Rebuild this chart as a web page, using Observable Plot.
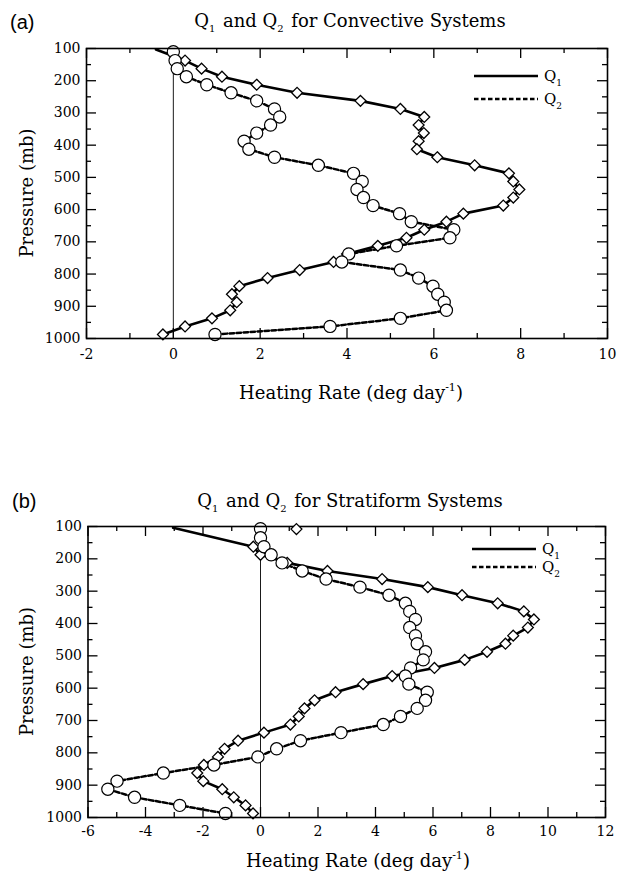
<!DOCTYPE html>
<html>
<head>
<meta charset="utf-8">
<script src="https://cdn.jsdelivr.net/npm/d3@7"></script>
<script src="https://cdn.jsdelivr.net/npm/@observablehq/plot@0.6"></script>
<style>
  body { margin: 0; background: #fff; }
  #root { width: 622px; height: 878px; }
  #root svg { display: block; }
</style>
</head>
<body>
<div id="root"></div>
<script>
// Pressure levels (mb) shared by both profiles, and axis tick labels
const pressureTicks = [100, 200, 300, 400, 500, 600, 700, 800, 900, 1000];
const convRateTicks = [-2, 0, 2, 4, 6, 8, 10];
const stratRateTicks = [-6, -4, -2, 0, 2, 4, 6, 8, 10, 12];

// (a) Convective systems — Q1 (apparent heat source), first vertex is the line start
const convQ1Pres = [103, 137.5, 162.5, 187.5, 212.5, 237.5, 262.5, 287.5, 312.5, 337.5, 362.5, 387.5, 412.5,
  437.5, 462.5, 487.5, 512.5, 537.5, 562.5, 587.5, 612.5, 637.5, 662.5, 687.5, 712.5, 737.5, 762.5,
  787.5, 812.5, 837.5, 862.5, 887.5, 912.5, 937.5, 962.5, 987.5];
const convQ1Rate = [-0.40, 0.27, 0.65, 1.12, 1.92, 2.85, 4.31, 5.23, 5.78, 5.65, 5.77, 5.65, 5.61,
  6.08, 6.94, 7.73, 7.83, 7.97, 7.83, 7.60, 6.68, 6.29, 5.78, 5.37, 4.71, 4.00, 3.69,
  2.91, 2.17, 1.52, 1.35, 1.46, 1.31, 0.89, 0.27, -0.24];

// (a) Convective systems — Q2 (apparent moisture sink)
const convQ2Pres = [110, 137.5, 162.5, 187.5, 212.5, 237.5, 262.5, 287.5, 312.5, 337.5, 362.5, 387.5, 412.5,
  437.5, 462.5, 487.5, 512.5, 537.5, 562.5, 587.5, 612.5, 637.5, 662.5, 687.5, 712.5, 737.5, 762.5,
  787.5, 812.5, 837.5, 862.5, 887.5, 912.5, 937.5, 962.5, 987.5];
const convQ2Rate = [0.00, 0.04, 0.09, 0.30, 0.77, 1.33, 1.92, 2.33, 2.45, 2.24, 1.92, 1.63, 1.74,
  2.33, 3.34, 4.15, 4.35, 4.23, 4.38, 4.60, 5.21, 5.48, 6.46, 6.37, 5.14, 4.04, 3.88,
  5.23, 5.65, 5.98, 6.09, 6.24, 6.29, 5.23, 3.61, 0.96];

// (b) Stratiform systems — Q1, first vertex is the line start
const stratQ1Pres = [104, 162.5, 187.5, 212.5, 237.5, 262.5, 287.5, 312.5, 337.5, 362.5, 387.5, 412.5,
  437.5, 462.5, 487.5, 512.5, 537.5, 562.5, 587.5, 612.5, 637.5, 662.5, 687.5, 712.5, 737.5, 762.5,
  787.5, 812.5, 837.5, 862.5, 887.5, 912.5, 937.5, 962.5, 987.5];
const stratQ1Rate = [-3.04, -0.25, 0.00, 0.93, 2.33, 4.23, 5.82, 7.01, 8.25, 9.16, 9.51, 9.30,
  8.79, 8.52, 7.88, 7.10, 6.05, 4.58, 3.57, 2.61, 1.88, 1.53, 1.33, 1.04, 0.12, -0.78,
  -1.25, -1.48, -1.97, -2.20, -1.99, -1.33, -0.93, -0.52, -0.26];
// lone Q1 value near the top of the stratiform profile
const stratQ1TopRate = [1.25];
const stratQ1TopPres = [108];

// (b) Stratiform systems — Q2
const stratQ2Pres = [107, 135, 162.5, 187.5, 212.5, 237.5, 262.5, 287.5, 312.5, 337.5, 362.5, 387.5, 412.5,
  437.5, 462.5, 487.5, 512.5, 537.5, 562.5, 587.5, 612.5, 637.5, 662.5, 687.5, 712.5, 737.5, 762.5,
  787.5, 812.5, 837.5, 862.5, 887.5, 912.5, 937.5, 962.5, 987.5];
const stratQ2Rate = [0.00, 0.00, 0.12, 0.37, 0.75, 1.45, 2.28, 3.46, 4.47, 5.04, 5.19, 5.39, 5.19,
  5.39, 5.45, 5.74, 5.66, 5.22, 5.04, 5.16, 5.80, 5.74, 5.45, 4.87, 4.27, 2.80, 1.39,
  0.56, -0.09, -1.62, -3.38, -4.99, -5.31, -4.38, -2.81, -1.22];

const SERIF = "'DejaVu Serif', 'Liberation Serif', serif";
const SANS = "'Liberation Sans', Arial, sans-serif";

const zip = (rates, pres) => rates.map((r, i) => ({rate: r, pres: pres[i]}));

// Append "Q" with a subscript index to a text element
function addQ(text, idx, big, small) {
  text.append("tspan").attr("font-size", big).text("Q");
  text.append("tspan").attr("font-size", small).attr("dy", big * 0.3).text(idx);
  text.append("tspan").attr("font-size", big).attr("dy", -big * 0.3).text("\u200a");
}

function drawPanel(cfg) {
  const {width, height, mt, mb, ml, mr} = cfg;
  const fw = width - ml - mr, fh = height - mt - mb;
  const majorLen = 10, minorLen = 5;
  const [x0, x1] = cfg.rateDomain;
  const xMajor = cfg.rateTicks;
  const xMinor = d3.range(x0, x1 + 1, 1).filter(v => !xMajor.includes(v));
  const yMinor = d3.range(150, 1000, 100);
  const q1 = zip(cfg.q1Rate, cfg.q1Pres);
  const q2 = zip(cfg.q2Rate, cfg.q2Pres);

  const marks = [
    Plot.axisX({ticks: xMajor, tickSize: 0, tickPadding: cfg.xPad, label: null, tickFormat: d => String(d)}),
    Plot.axisY({ticks: pressureTicks, tickSize: 0, tickPadding: 6, label: null, tickFormat: d => String(d)}),
    // inward ticks on all four sides
    Plot.tickX(xMajor, {x: d => d, insetTop: fh - majorLen, strokeWidth: 1.3}),
    Plot.tickX(xMinor, {x: d => d, insetTop: fh - minorLen, strokeWidth: 1.3}),
    Plot.tickX(xMajor, {x: d => d, insetBottom: fh - majorLen, strokeWidth: 1.3}),
    Plot.tickX(xMinor, {x: d => d, insetBottom: fh - minorLen, strokeWidth: 1.3}),
    Plot.tickY(pressureTicks, {y: d => d, insetRight: fw - majorLen, strokeWidth: 1.3}),
    Plot.tickY(yMinor, {y: d => d, insetRight: fw - minorLen, strokeWidth: 1.3}),
    Plot.tickY(pressureTicks, {y: d => d, insetLeft: fw - majorLen, strokeWidth: 1.3}),
    Plot.tickY(yMinor, {y: d => d, insetLeft: fw - minorLen, strokeWidth: 1.3}),
    Plot.ruleX([0], {strokeWidth: 0.9}),
    Plot.line(q2, {x: "rate", y: "pres", stroke: "black", strokeWidth: 2.5, strokeDasharray: "4.5,2.5"}),
    Plot.line(q1, {x: "rate", y: "pres", stroke: "black", strokeWidth: 2.6}),
    Plot.dot(q1.slice(1), {x: "rate", y: "pres", symbol: "diamond2", r: 4.9, fill: "white", stroke: "black", strokeWidth: 1.3}),
    Plot.dot(q2, {x: "rate", y: "pres", r: 6.1, fill: "white", stroke: "black", strokeWidth: 1.2}),
    Plot.frame({strokeWidth: 1.6})
  ];
  if (cfg.extraQ1) {
    marks.push(Plot.dot(cfg.extraQ1, {x: "rate", y: "pres", symbol: "diamond2", r: 4.9, fill: "white", stroke: "black", strokeWidth: 1.3}));
  }

  const svg = Plot.plot({
    width, height,
    marginTop: mt, marginBottom: mb, marginLeft: ml, marginRight: mr,
    style: {fontFamily: SERIF, fontSize: "14px", color: "black", background: "white", overflow: "visible"},
    x: {domain: cfg.rateDomain},
    y: {domain: [1000, 100]},
    marks
  });

  const s = d3.select(svg);
  // panel letter
  s.append("text").attr("x", cfg.letterX).attr("y", cfg.letterY).attr("text-anchor", "start")
    .attr("font-family", SANS).attr("font-size", 20).text(cfg.letter);
  // title with subscripts
  const t = s.append("text").attr("x", cfg.titleX).attr("y", cfg.titleY)
    .attr("text-anchor", "middle").attr("font-family", SERIF);
  addQ(t, "1", 18, 10);
  t.append("tspan").attr("font-size", 18).text(" and ");
  addQ(t, "2", 18, 10);
  t.append("tspan").attr("font-size", 18).text(" for " + cfg.titleRest);
  // x-axis title
  const xl = s.append("text").attr("x", cfg.xLabelX).attr("y", cfg.xLabelY)
    .attr("text-anchor", "middle").attr("font-family", SERIF).attr("font-size", 18);
  xl.append("tspan").text("Heating Rate (deg day");
  xl.append("tspan").attr("font-size", 11).attr("dy", -8).text("-1");
  xl.append("tspan").attr("dy", 8).text(")");
  // y-axis title
  s.append("text").attr("transform", `translate(${cfg.yLabelX},${mt + fh / 2}) rotate(-90)`)
    .attr("text-anchor", "middle").attr("font-family", SERIF).attr("font-size", 18)
    .text("Pressure (mb)");
  // legend
  const lg = s.append("g");
  [["1", null], ["2", "4.5,2.5"]].forEach(([idx, dash], i) => {
    const y = cfg.legendY + i * cfg.legendGap;
    lg.append("line").attr("x1", cfg.legendX).attr("x2", cfg.legendX + 64)
      .attr("y1", y).attr("y2", y).attr("stroke", "black").attr("stroke-width", 2.5)
      .attr("stroke-dasharray", dash);
    const lt = lg.append("text").attr("x", cfg.legendX + 70).attr("y", y + 5)
      .attr("text-anchor", "start").attr("font-family", SERIF);
    addQ(lt, idx, 15, 9);
  });
  return svg;
}

const root = document.getElementById("root");

root.appendChild(drawPanel({
  width: 622, height: 440, mt: 48, mb: 102, ml: 86, mr: 15,
  rateDomain: [-2, 10], rateTicks: convRateTicks, xPad: 11,
  q1Rate: convQ1Rate, q1Pres: convQ1Pres, q2Rate: convQ2Rate, q2Pres: convQ2Pres,
  letter: "(a)", letterX: 10, letterY: 29, titleX: 350, titleY: 27, titleRest: "Convective Systems",
  xLabelX: 351, xLabelY: 399, yLabelX: 33,
  legendX: 474, legendY: 76, legendGap: 23
}));

root.appendChild(drawPanel({
  width: 622, height: 438, mt: 86, mb: 61, ml: 87.5, mr: 17,
  rateDomain: [-6, 12], rateTicks: stratRateTicks, xPad: 9,
  q1Rate: stratQ1Rate, q1Pres: stratQ1Pres, q2Rate: stratQ2Rate, q2Pres: stratQ2Pres,
  extraQ1: zip(stratQ1TopRate, stratQ1TopPres),
  letter: "(b)", letterX: 12, letterY: 68, titleX: 350, titleY: 67, titleRest: "Stratiform Systems",
  xLabelX: 358, xLabelY: 427, yLabelX: 33,
  legendX: 472, legendY: 109, legendGap: 18
}));
</script>
</body>
</html>
